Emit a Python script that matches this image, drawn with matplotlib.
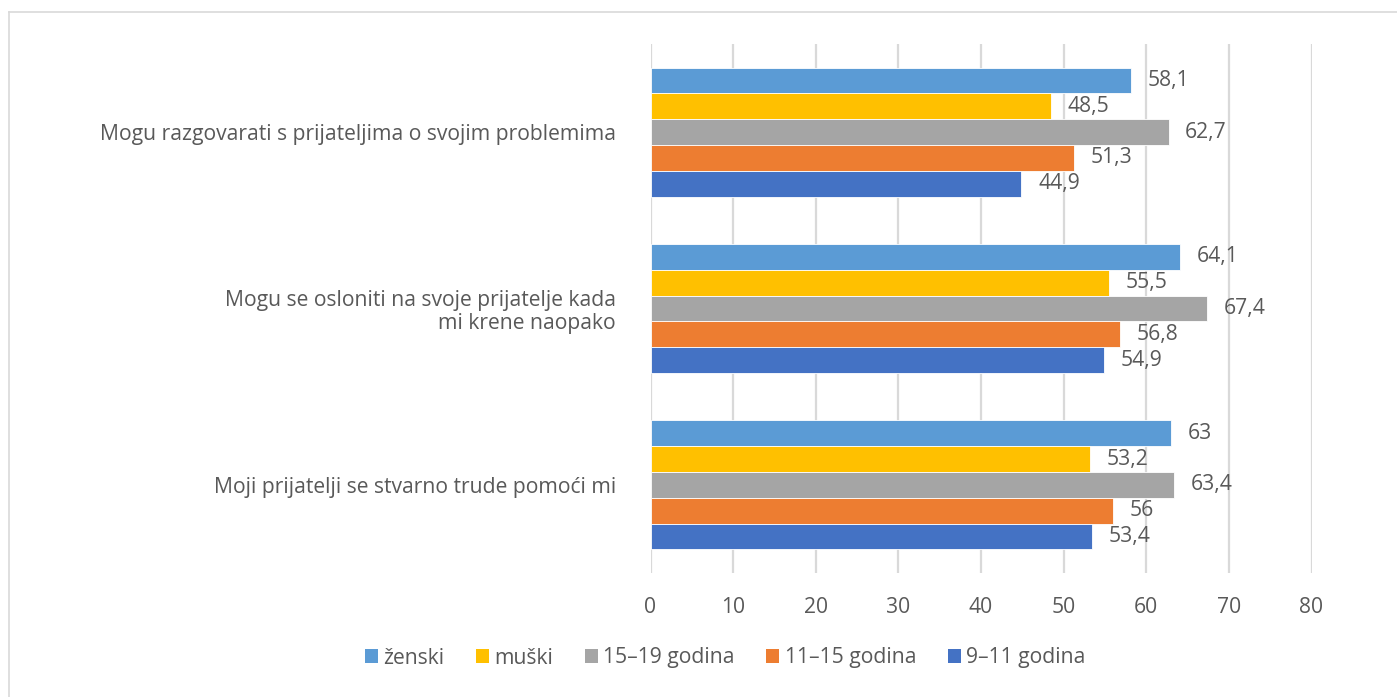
import numpy as np
import matplotlib.pyplot as plt
from matplotlib.patches import Patch
from matplotlib.lines import Line2D

plt.rcParams['font.family'] = ['Open Sans', 'DejaVu Sans']

categories = [
    'Mogu razgovarati s prijateljima o svojim problemima',
    'Mogu se osloniti na svoje prijatelje kada\nmi krene naopako',
    'Moji prijatelji se stvarno trude pomoći mi',
]
series_names = ['ženski', 'muški', '15–19 godina', '11–15 godina', '9–11 godina']
zenski = [58.1, 64.1, 63.0]
muski = [48.5, 55.5, 53.2]
god_15_19 = [62.7, 67.4, 63.4]
god_11_15 = [51.3, 56.8, 56.0]
god_9_11 = [44.9, 54.9, 53.4]
colors = ['#5B9BD5', '#FFC000', '#A5A5A5', '#ED7D31', '#4472C4']
xticks = [0, 10, 20, 30, 40, 50, 60, 70, 80]

text_col = '#595959'
grid_col = '#D9D9D9'
fs = 15.2

fig = plt.figure(figsize=(13.97, 6.97), dpi=100)
ax = fig.add_axes([650.5 / 1397, 1 - 573 / 697, (1311.5 - 650.5) / 1397, (573 - 44) / 697])

data = [zenski, muski, god_15_19, god_11_15, god_9_11]
y = np.arange(len(categories))
h = 0.731 / 5
for j, (vals, c) in enumerate(zip(data, colors)):
    pos = y + (j - 2) * h
    ax.barh(pos, vals, height=h, color=c, edgecolor='white', linewidth=0.6, zorder=3)
    for p, v in zip(pos, vals):
        lab = ('%g' % v).replace('.', ',')
        ax.annotate(lab, (v, p), xytext=(12, 0), textcoords='offset points',
                    ha='left', va='center', fontsize=fs, color=text_col)

ax.set_xlim(0, 80)
ax.set_ylim(2.5, -0.5)
ax.set_xticks(xticks)
ax.set_yticks(y)
ax.set_yticklabels(categories, ha='right', multialignment='right', linespacing=1.1)
ax.tick_params(axis='both', length=0, labelsize=fs, colors=text_col)
ax.tick_params(axis='y', pad=25)
ax.tick_params(axis='x', pad=17)
ax.grid(axis='x', color=grid_col, linewidth=1.6, zorder=0)
for s in ax.spines.values():
    s.set_visible(False)

handles = [Patch(facecolor=c, edgecolor='none') for c in colors]
fig.legend(handles, series_names, loc='center', bbox_to_anchor=(0.519, 1 - 658 / 697),
           ncol=5, frameon=False, fontsize=fs, labelcolor=text_col,
           handlelength=0.62, handleheight=0.62, handletextpad=0.25, columnspacing=1.5)

# thin frame along the top and left edge
fig.add_artist(Line2D([9 / 1397, 9 / 1397], [0, 1 - 12 / 697], transform=fig.transFigure,
                      color=grid_col, linewidth=1.2))
fig.add_artist(Line2D([9 / 1397, 1], [1 - 12 / 697, 1 - 12 / 697], transform=fig.transFigure,
                      color=grid_col, linewidth=1.2))

fig.savefig('out.png', dpi=100)
